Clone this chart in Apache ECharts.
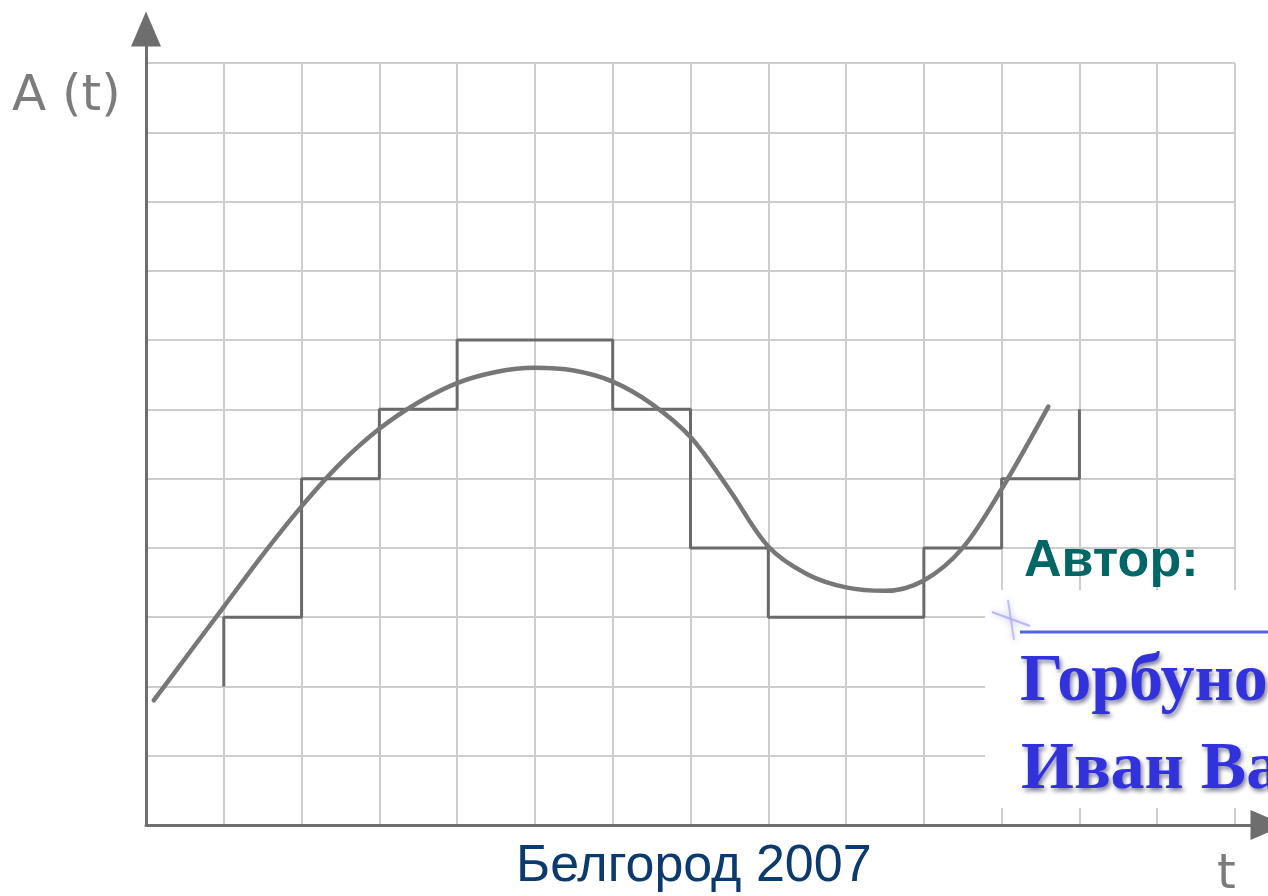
<!DOCTYPE html>
<html>
<head>
<meta charset="utf-8">
<script src="https://cdn.jsdelivr.net/npm/echarts@6/dist/echarts.min.js"></script>
<style>
html,body{margin:0;padding:0;background:#fff;}
#chart{width:1268px;height:896px;}
</style>
</head>
<body>
<div id="chart"></div>
<script>
// Smooth curve A(t): t values and amplitudes (grid units)
var curveT = [0.1, 0.5, 1, 1.5, 2, 2.5, 3, 3.5, 4, 4.5, 5, 5.5, 6, 6.5, 7, 7.5, 8, 8.5, 9, 9.5, 10, 10.5, 11, 11.6];
var curveA = [1.80, 2.40, 3.15, 3.90, 4.60, 5.22, 5.72, 6.10, 6.38, 6.54, 6.60, 6.56, 6.40, 6.08, 5.60, 4.84, 4.02, 3.62, 3.43, 3.38, 3.53, 4.00, 4.85, 6.04];

// Step (quantized) signal: edges in t and level held on each interval
var stepEdges = [1, 2, 3, 4, 6, 7, 8, 10, 11, 12];
var stepLevels = [3, 5, 6, 7, 6, 4, 3, 4, 5];
var stepStart = 2;
var stepEnd = 6;

// Axis ranges (grid units)
var tMax = 14;
var aMax = 11;

var curveData = curveT.map(function (t, i) { return [t, curveA[i]]; });
var stepData = [[stepEdges[0], stepStart]];
for (var i = 0; i < stepLevels.length; i++) {
  stepData.push([stepEdges[i], stepLevels[i]]);
  stepData.push([stepEdges[i + 1], stepLevels[i]]);
}
stepData.push([stepEdges[stepEdges.length - 1], stepEnd]);

var gridColor = '#cdcdcd';
var axisColor = '#6e6e6e';

var chart = echarts.init(document.getElementById('chart'), null, {renderer: 'canvas'});
chart.setOption({
  backgroundColor: '#ffffff',
  animation: false,
  grid: [
    {left: 146, right: 33, top: 63, bottom: 71},
    {left: 146, right: -5, top: 29, bottom: 71}
  ],
  xAxis: [
    {
      type: 'value', gridIndex: 0, min: 0, max: tMax, interval: 1,
      axisLine: {show: false}, axisTick: {show: false}, axisLabel: {show: false},
      splitLine: {show: true, lineStyle: {color: gridColor, width: 2}}
    },
    {
      type: 'value', gridIndex: 1, min: 0, max: 1,
      axisLine: {show: true, onZero: false, symbol: ['none', 'triangle'], symbolSize: [30, 35],
        lineStyle: {color: axisColor, width: 3}},
      axisTick: {show: false}, axisLabel: {show: false}, splitLine: {show: false}
    }
  ],
  yAxis: [
    {
      type: 'value', gridIndex: 0, min: 0, max: aMax, interval: 1,
      axisLine: {show: false}, axisTick: {show: false}, axisLabel: {show: false},
      splitLine: {show: true, lineStyle: {color: gridColor, width: 2}}
    },
    {
      type: 'value', gridIndex: 1, min: 0, max: 1,
      axisLine: {show: true, onZero: false, symbol: ['none', 'triangle'], symbolSize: [30, 35],
        lineStyle: {color: axisColor, width: 3}},
      axisTick: {show: false}, axisLabel: {show: false}, splitLine: {show: false}
    }
  ],
  series: [
    {
      type: 'line', xAxisIndex: 0, yAxisIndex: 0, data: stepData,
      showSymbol: false, symbol: 'none',
      lineStyle: {color: '#6a6a6a', width: 3}, z: 3
    },
    {
      type: 'line', xAxisIndex: 0, yAxisIndex: 0, data: curveData,
      smooth: 0.33, showSymbol: false, symbol: 'none',
      lineStyle: {color: '#777777', width: 4.5, cap: 'round', join: 'round'}, z: 4
    }
  ],
  graphic: [
    {type: 'text', left: 12, top: 72, z: 10,
      style: {text: 'A (t)', fill: '#7c7c7c', font: '50px "DejaVu Sans"'}},
    {type: 'text', left: 1217, top: 852, z: 10,
      style: {text: 't', fill: '#7c7c7c', font: '48px "DejaVu Sans"'}},
    {type: 'text', left: 1024, top: 536, z: 10,
      style: {text: 'Автор:', fill: '#006666', font: 'bold 52px "Liberation Sans"'}},
    {type: 'rect', z: 20, shape: {x: 985, y: 590, width: 290, height: 218},
      style: {fill: '#ffffff'}},
    {type: 'line', z: 21, shape: {x1: 1020, y1: 632, x2: 1268, y2: 632},
      style: {stroke: '#5264e0', lineWidth: 3}},
    {type: 'line', z: 21, shape: {x1: 992, y1: 612, x2: 1030, y2: 626},
      style: {stroke: 'rgba(170,170,240,0.8)', lineWidth: 2, shadowBlur: 6, shadowColor: 'rgba(150,150,240,0.8)'}},
    {type: 'line', z: 21, shape: {x1: 1008, y1: 600, x2: 1014, y2: 640},
      style: {stroke: 'rgba(170,170,240,0.7)', lineWidth: 2, shadowBlur: 6, shadowColor: 'rgba(150,150,240,0.8)'}},
    {type: 'text', left: 1020, top: 648, z: 22,
      style: {text: 'Горбуно', fill: '#3232dd', font: 'bold 68px "Liberation Serif"',
        textShadowColor: 'rgba(0,0,60,0.5)', textShadowBlur: 4, textShadowOffsetX: 2, textShadowOffsetY: 3}},
    {type: 'text', left: 1021, top: 736, z: 22,
      style: {text: 'Иван Ва', fill: '#3232dd', font: 'bold 68px "Liberation Serif"',
        textShadowColor: 'rgba(0,0,60,0.5)', textShadowBlur: 4, textShadowOffsetX: 2, textShadowOffsetY: 3}},
    {type: 'text', left: 516, top: 841, z: 10,
      style: {text: 'Белгород 2007', fill: '#0b3a6e', font: '52px "Liberation Sans"'}}
  ]
});
</script>
</body>
</html>
